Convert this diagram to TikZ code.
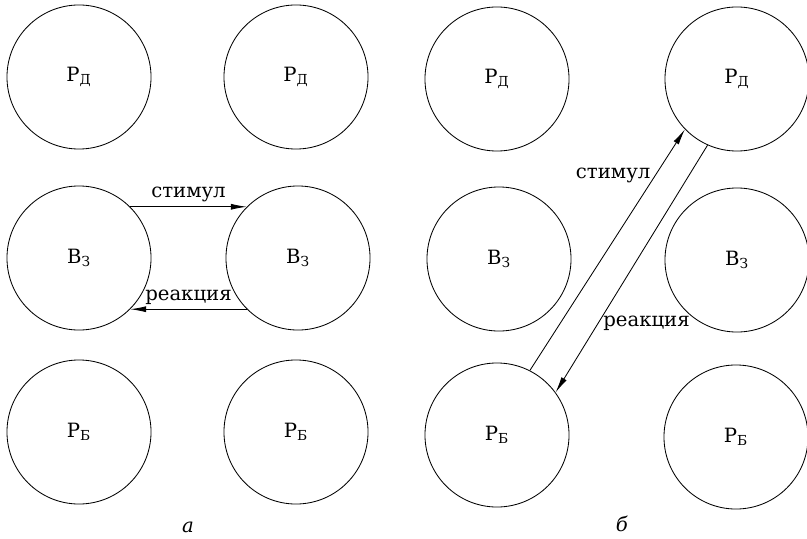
\documentclass[tikz,border=0pt]{standalone}
\usepackage{fontspec}
\setmainfont{DejaVu Serif}
\usetikzlibrary{arrows.meta}
\newcommand{\rdlab}{Р\textsubscript{Д}}
\newcommand{\vzlab}{В\textsubscript{З}}
\newcommand{\rblab}{Р\textsubscript{Б}}
\tikzset{krug/.style={draw, circle, minimum size=3.6cm, inner sep=0pt}}
\begin{document}
\begin{tikzpicture}[x=0.025cm, y=-0.025cm, font=\rmfamily\fontsize{14}{17}\selectfont, line width=0.6pt, line join=round, >={Latex[length=4mm,width=1.5mm]}]
	\useasboundingbox (0,0) rectangle (807,538);
	% a
	\foreach \n/\x/\y/\t in {a1/79/77/\rdlab, a2/296/77/\rdlab, a3/79/258/\vzlab, a4/298/258/\vzlab, a5/79/432/\rblab, a6/296/432/\rblab}
		\node[krug] (\n) at (\x,\y) {\t};
	\draw[->] (a3.45) -- node[above]{стимул} (a4.135);
	\draw[->] (a4.225) -- node[above]{реакция} (a3.315);
	\node (la) at (188,527) {\textit{а}};
	% б
	\foreach \n/\x/\y/\t in {b1/497/79/\rdlab, b2/737/79/\rdlab, b3/499/259/\vzlab, b4/737/260/\vzlab, b5/497/435/\rblab, b6/736/437/\rblab}
		\node[krug] (\n) at (\x,\y) {\t};
	\draw[->] (b5.63) -- node[pos=0.81, left]{стимул} (b2.224);
	\draw[->] (b2.246) -- node[pos=0.72, right]{реакция} (b5.36);
	\node (lb) at (622,524) {\textit{б}};
\end{tikzpicture}
\end{document}
